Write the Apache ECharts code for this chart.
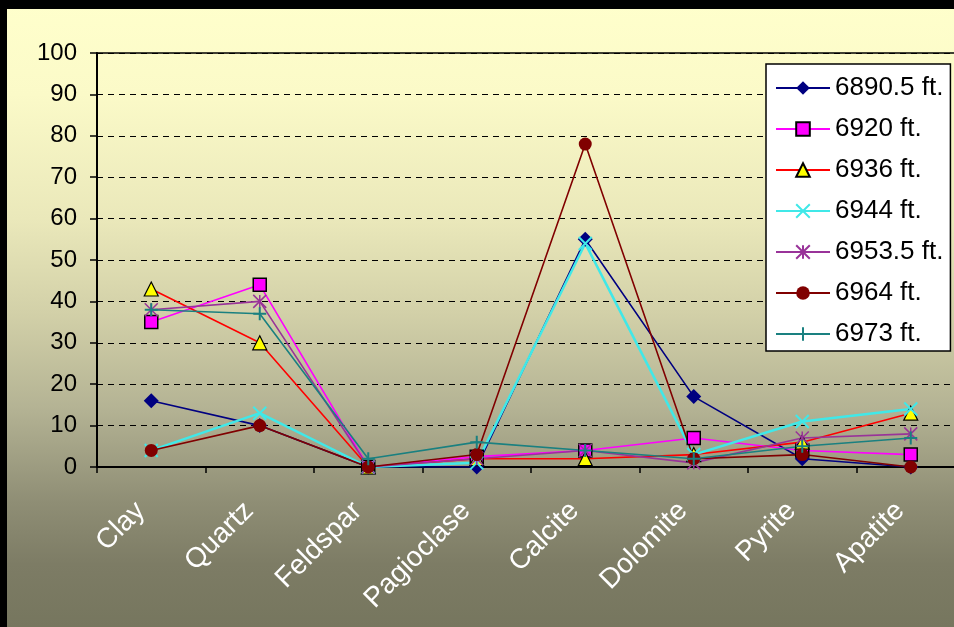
<!DOCTYPE html>
<html>
<head>
<meta charset="utf-8">
<script src="https://cdn.jsdelivr.net/npm/echarts@6/dist/echarts.min.js"></script>
<style>
  html, body { margin: 0; padding: 0; }
  #chart { width: 954px; height: 627px; }
</style>
</head>
<body>
<div id="chart"></div>
<script>
// minerals on the x axis
const categories = ['Clay', 'Quartz', 'Feldspar', 'Pagioclase', 'Calcite', 'Dolomite', 'Pyrite', 'Apatite'];
const yTicks = [0, 10, 20, 30, 40, 50, 60, 70, 80, 90, 100];

// one array per depth
const d6890_5 = [16, 10, 0, 0, 55, 17, 2, 0];
const d6920   = [35, 44, 0, 2.5, 4, 7, 4, 3];
const d6936   = [43, 30, 0, 2, 2, 3, 6, 13];
const d6944   = [4, 13, 0, 1, 54, 3, 11, 14];
const d6953_5 = [38, 40, 0, 2, 4, 1, 7, 8];
const d6964   = [4, 10, 0, 3, 78, 2, 3, 0];
const d6973   = [38, 37, 2, 6, 4, 2, 5, 7];

const XMARK = 'path://M0,0L10,10M10,0L0,10';
const STAR = 'path://M5,0L5,10M0,0L10,10M10,0L0,10';
const PLUS = 'path://M5,0L5,10M0,5L10,5';

function line(name, data, color, symbol, size, item, width) {
  return {
    name: name,
    type: 'line',
    data: data,
    symbol: symbol,
    symbolSize: size,
    color: color,
    lineStyle: { color: color, width: width || 1.6 },
    itemStyle: item,
    emphasis: { disabled: true }
  };
}

const chart = echarts.init(document.getElementById('chart'));
chart.setOption({
  animation: false,
  backgroundColor: {
    type: 'linear', x: 0, y: 0, x2: 0, y2: 1,
    colorStops: [
      { offset: 0, color: '#FFFFCC' },
      { offset: 0.15, color: '#FBFAC8' },
      { offset: 0.35, color: '#EAE8BA' },
      { offset: 0.5, color: '#D2D0A8' },
      { offset: 0.65, color: '#B4B394' },
      { offset: 0.8, color: '#8F8E75' },
      { offset: 0.9, color: '#7D7C65' },
      { offset: 1, color: '#76765E' }
    ]
  },
  graphic: [
    { type: 'rect', shape: { x: 0, y: 0, width: 954, height: 9 }, style: { fill: '#000' }, z: 100 },
    { type: 'rect', shape: { x: 0, y: 0, width: 7, height: 627 }, style: { fill: '#000' }, z: 100 }
  ],
  grid: {
    left: 97, top: 53, bottom: 160, right: -11,
    outerBoundsMode: 'none',
    show: true, borderColor: '#000', borderWidth: 1.5
  },
  legend: {
    orient: 'vertical',
    left: 766, top: 64,
    backgroundColor: '#fff',
    borderColor: '#000',
    borderWidth: 1.5,
    padding: [11, 7, 4, 9],
    itemWidth: 54,
    itemHeight: 17,
    itemGap: 15,
    textStyle: { fontFamily: 'Liberation Sans, Arial, sans-serif', fontSize: 26, color: '#000' },
    data: ['6890.5 ft.', '6920 ft.', '6936 ft.', '6944 ft.', '6953.5 ft.', '6964 ft.', '6973 ft.']
  },
  xAxis: {
    type: 'category',
    data: categories,
    boundaryGap: true,
    axisLine: { lineStyle: { color: '#000', width: 2 } },
    axisTick: { show: true, length: 6, lineStyle: { color: '#000', width: 1.5 } },
    axisLabel: {
      interval: 0, rotate: 45, margin: 29,
      padding: [0, 15, 0, 0],
      color: '#fff', fontSize: 28,
      fontFamily: 'Liberation Sans, Arial, sans-serif'
    }
  },
  yAxis: {
    type: 'value',
    min: 0, max: 100, interval: 10,
    axisLine: { show: true, lineStyle: { color: '#000', width: 2 } },
    axisTick: { show: true, length: 7, lineStyle: { color: '#000', width: 1.5 } },
    axisLabel: {
      margin: 20, color: '#000', fontSize: 24,
      fontFamily: 'Liberation Sans, Arial, sans-serif',
      formatter: function (v) { return yTicks.indexOf(v) >= 0 ? String(v) : ''; }
    },
    splitLine: { show: true, lineStyle: { color: '#000', type: [6, 5], width: 1.2 } }
  },
  series: [
    line('6890.5 ft.', d6890_5, '#000080', 'diamond', 15, { color: '#000080' }),
    line('6920 ft.', d6920, '#FF00FF', 'rect', 13, { color: '#FF00FF', borderColor: '#000', borderWidth: 1.5 }),
    line('6936 ft.', d6936, '#FF0000', 'triangle', 14, { color: '#FFFF00', borderColor: '#000', borderWidth: 1.2 }),
    line('6944 ft.', d6944, '#40E8E8', XMARK, 13, { color: 'transparent', borderColor: '#40E8E8', borderWidth: 2 }, 2.5),
    line('6953.5 ft.', d6953_5, '#993399', STAR, 13, { color: 'transparent', borderColor: '#993399', borderWidth: 1.5 }),
    line('6964 ft.', d6964, '#800000', 'circle', 13, { color: '#800000' }),
    line('6973 ft.', d6973, '#1A8080', PLUS, 13, { color: 'transparent', borderColor: '#1A8080', borderWidth: 2 })
  ]
});
</script>
</body>
</html>
